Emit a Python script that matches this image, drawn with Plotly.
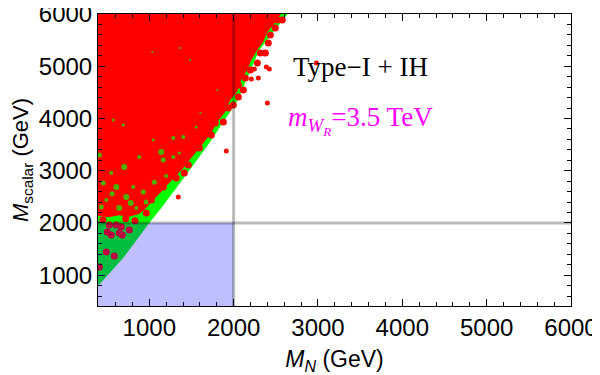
import plotly.graph_objects as go

# lower edge of the allowed (green) region, M_N vs M_scalar in GeV
edge_mn = [390, 700, 1000, 1150, 1450, 1700, 2050, 2300, 2640]
edge_ms = [790, 1350, 2000, 2300, 2950, 3500, 4350, 5300, 6000]

# inner edge of the dense red region
red_mn = [2560, 2470, 2400, 2350, 2280, 2210, 2160, 2090, 2040, 1960, 1900, 1805, 1734,
          1650, 1579, 1496, 1413, 1330, 1235, 1140, 1046, 963, 880, 760, 640, 520, 390]
red_ms = [6000, 5790, 5656, 5464, 5311, 5120, 4928, 4737, 4507, 4354, 4125, 3933, 3723,
          3550, 3397, 3244, 3072, 2919, 2766, 2593, 2440, 2287, 2172, 2120, 2150, 2110, 2140]

# green gaps inside the red region
gap_mn = [1142, 1166, 881, 703, 549, 454, 609, 810, 929, 727, 490, 431, 644, 846, 964,
          1285, 1356, 1047, 1403, 692, 407, 1557, 1285, 1368, 1036, 1486, 1605, 1806, 573,
          1060, 1200, 780, 560, 1240]
gap_ms = [3359, 3206, 3263, 3072, 2957, 2766, 2689, 2689, 2593, 2498, 2440, 2306, 2287,
          2287, 2402, 3263, 3340, 3589, 3646, 3876, 3301, 3837, 3627, 5350, 5273, 5120,
          4105, 4546, 3971, 2780, 2900, 2380, 2560, 2620]
gap_size = [6, 5, 4, 6, 4, 5, 6, 4, 5, 6, 4, 5, 6, 4, 5,
            4, 3, 3, 4, 3, 5, 3, 4, 2, 2, 2, 2, 2, 3, 5, 4, 6, 5, 4]

# red points in the green fringe and below 2 TeV
dot_mn = [2518, 2577, 2494, 2435, 2411, 2376, 2317, 2281, 2198, 2139, 2056, 2115, 2056,
          1996, 1937, 1878, 1783, 1735, 1593, 1463, 1415, 1320, 1166, 1024, 964,
          526, 609, 668, 549, 644, 763, 490, 585, 407, 502, 680, 450, 720, 830]
dot_ms = [5885, 5885, 5732, 5598, 5445, 5254, 5254, 5062, 4928, 4775, 4641, 4546, 4412,
          4258, 4201, 3933, 3914, 3684, 3435, 3110, 2957, 2861, 2689, 2440, 2191,
          1962, 1962, 1923, 1770, 1809, 1866, 1445, 1368, 1158, 1828, 1770, 2060, 2080, 2040]

# isolated red points
out_mn = [2981, 2388, 2423, 2246, 2210, 2293, 2400, 1913, 1344]
out_ms = [5062, 4986, 4947, 4947, 4756, 4775, 4297, 3378, 2498]

x_lo, x_hi = 392, 6000
y_lo, y_hi = 410, 6000

fig = go.Figure()
fig.add_trace(go.Scatter(x=edge_mn + [390], y=edge_ms + [6000], fill='toself',
                         fillcolor='#00ff00', mode='none', hoverinfo='skip'))
fig.add_trace(go.Scatter(x=red_mn + [390], y=red_ms + [6000], fill='toself',
                         fillcolor='#ff0000', mode='none', hoverinfo='skip'))
fig.add_trace(go.Scatter(x=gap_mn, y=gap_ms, mode='markers',
                         marker=dict(color='#00ff00', size=gap_size, symbol='circle',
                                     line=dict(width=0))))
fig.add_trace(go.Scatter(x=dot_mn, y=dot_ms, mode='markers',
                         marker=dict(color='#ff0000', size=7, line=dict(width=0))))
fig.add_trace(go.Scatter(x=out_mn, y=out_ms, mode='markers',
                         marker=dict(color='#ee1100', size=5, line=dict(width=0))))

# blue excluded box and the 2 TeV lines
fig.add_shape(type='rect', x0=x_lo, x1=2000, y0=y_lo, y1=2000, layer='above',
              fillcolor='rgba(0,0,255,0.25)', line_width=0)
fig.add_shape(type='line', x0=2000, x1=2000, y0=0, y1=1, yref='paper', layer='above',
              line=dict(color='rgba(0,0,0,0.27)', width=3))
fig.add_shape(type='line', x0=0, x1=1, xref='paper', y0=2000, y1=2000, layer='above',
              line=dict(color='rgba(0,0,0,0.27)', width=3))

fig.add_annotation(x=3500, y=4990, text='Type\u2212I + IH', showarrow=False,
                   font=dict(family='Liberation Serif', size=27, color='black'))
fig.add_annotation(x=3500, y=3960, showarrow=False,
                   text='<i>m</i><sub><i>W</i><sub><i>R</i></sub></sub>=3.5 TeV',
                   font=dict(family='Liberation Serif', size=27, color='#ff00ff'))

axis = dict(showline=True, linecolor='black', linewidth=1, mirror='allticks',
            ticks='inside', ticklen=7, tickcolor='black', showgrid=False, zeroline=False,
            automargin=False, tick0=0, dtick=1000, ticklabeloverflow='allow',
            tickfont=dict(family='Liberation Sans', size=24, color='black'),
            minor=dict(ticks='inside', ticklen=4, dtick=200, tick0=0, tickcolor='black'))

fig.update_xaxes(axis, range=[x_lo, x_hi],
                 title=dict(text='<i>M<sub>N</sub></i> (GeV)', standoff=17,
                            font=dict(family='Liberation Sans', size=23, color='black')))
fig.update_yaxes(axis, range=[y_lo, y_hi + 1],
                 title=dict(text='<i>M</i><sub>scalar</sub> (GeV)', standoff=11,
                            font=dict(family='Liberation Sans', size=22, color='black')))

# the page puts the figure 8px in from the top-left corner
fig.update_layout(width=592, height=367, showlegend=False,
                  margin=dict(l=90, r=29, t=6, b=69),
                  plot_bgcolor='white', paper_bgcolor='white')

fig.write_html("out.html")
